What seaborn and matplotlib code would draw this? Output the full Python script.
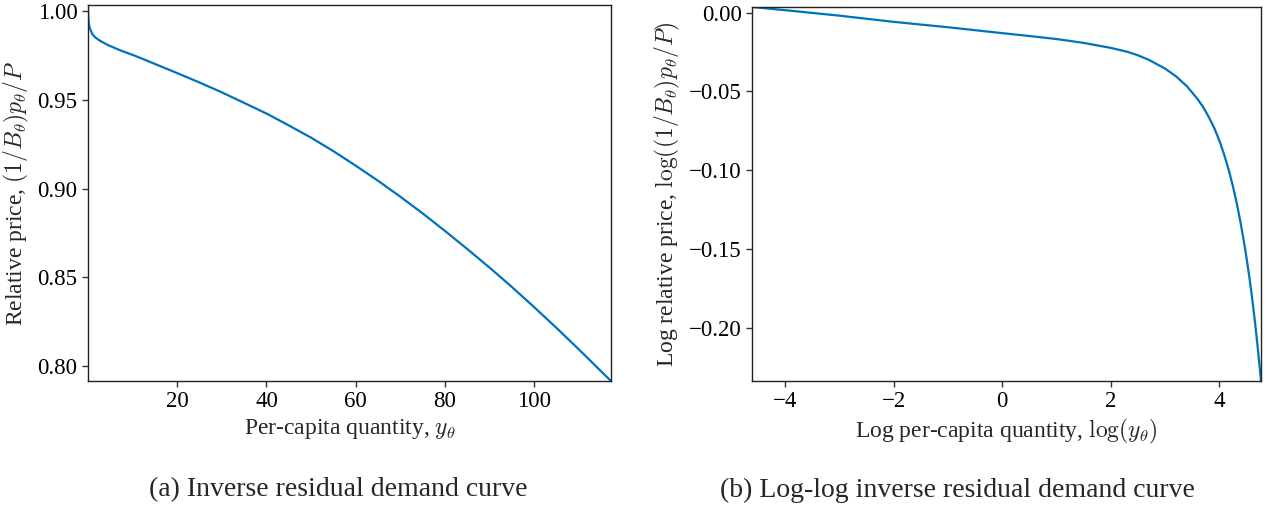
import numpy as np
import pandas as pd
import matplotlib
matplotlib.use("Agg")
import matplotlib.pyplot as plt
import seaborn as sns

# Per-capita quantity y_theta and relative price (1/B)p/P
quantity = [0.01, 0.0183, 0.05, 0.135, 0.368, 1.0, 1.65, 2.72, 4.48, 7.39,
            9.97, 12.18, 14.88, 20.09, 24.53, 29.96, 36.6, 40.4, 45.0, 50.0,
            55.0, 60.0, 65.0, 70.0, 75.0, 80.0, 85.0, 90.0, 95.0, 100.0,
            105.0, 110.0, 114.0, 117.2]
rel_price = [1.0036, 1.0016, 0.9981, 0.9942, 0.9908, 0.9871, 0.9853, 0.9834,
             0.9810, 0.9779, 0.9755, 0.9733, 0.9705, 0.9651, 0.9604, 0.9544,
             0.9465, 0.9419, 0.9357, 0.9288, 0.9212, 0.9130, 0.9045, 0.8955,
             0.8861, 0.8762, 0.8660, 0.8555, 0.8446, 0.8332, 0.8215, 0.8094,
             0.7995, 0.7916]

left_xticks = [20, 40, 60, 80, 100]
left_yticks = [0.80, 0.85, 0.90, 0.95, 1.00]
right_xticks = [-4, -2, 0, 2, 4]
right_yticks = [-0.20, -0.15, -0.10, -0.05, 0.00]

captions = ["(a) Inverse residual demand curve",
            "(b) Log-log inverse residual demand curve"]

sns.set_style("ticks")
plt.rcParams["font.family"] = ["Liberation Serif", "DejaVu Serif"]
plt.rcParams["mathtext.fontset"] = "cm"
plt.rcParams["axes.unicode_minus"] = True

line_color = "#0072BD"
TICK_FS = 16.5
LABEL_FS = 17
CAP_FS = 20

df = pd.DataFrame({"q": quantity, "p": rel_price})
df["logq"] = np.log(df["q"])
df["logp"] = np.log(df["p"])

fig = plt.figure(figsize=(12.67, 5.08), dpi=100)
ax1 = fig.add_axes([88 / 1267, 1 - 381 / 508, (611 - 88) / 1267, (381 - 5) / 508])
ax2 = fig.add_axes([752 / 1267, 1 - 381 / 508, (1261 - 752) / 1267, (381 - 7) / 508])

sns.lineplot(data=df, x="q", y="p", ax=ax1, color=line_color, linewidth=1.6, sort=False)
sns.lineplot(data=df, x="logq", y="logp", ax=ax2, color=line_color, linewidth=1.6, sort=False)

ax1.set_xlim(df["q"].min(), df["q"].max())
ax1.set_ylim(df["p"].min(), df["p"].max())
ax2.set_xlim(df["logq"].min(), df["logq"].max())
ax2.set_ylim(df["logp"].min(), df["logp"].max())

ax1.set_xticks(left_xticks)
ax1.set_yticks(left_yticks)
ax1.set_yticklabels([f"{v:.2f}" for v in left_yticks])
ax2.set_xticks(right_xticks)
ax2.set_xticklabels([f"{v:d}".replace("-", "\u2212") for v in right_xticks])
ax2.set_yticks(right_yticks)
ax2.set_yticklabels([f"{v:.2f}".replace("-", "\u2212") for v in right_yticks])

ax1.set_xlabel(r"Per-capita quantity, $y_\theta$", fontsize=LABEL_FS, labelpad=3)
ax1.set_ylabel(r"Relative price, $(1/B_\theta)p_\theta/P$", fontsize=LABEL_FS, labelpad=5)
ax2.set_xlabel(r"Log per-capita quantity, $\log(y_\theta)$", fontsize=LABEL_FS, labelpad=3)
ax2.set_ylabel(r"Log relative price, $\log((1/B_\theta)p_\theta/P)$", fontsize=LABEL_FS, labelpad=5)

for ax in (ax1, ax2):
    ax.tick_params(axis="both", labelsize=TICK_FS, direction="out", length=4,
                   width=1, colors="#333333", labelcolor="black")
    for s in ax.spines.values():
        s.set_visible(True)
        s.set_linewidth(1.0)
        s.set_color("#222222")

fig.text(338 / 1267, 1 - 490 / 508, captions[0], ha="center", va="center", fontsize=CAP_FS)
fig.text(957 / 1267, 1 - 490 / 508, captions[1], ha="center", va="center", fontsize=CAP_FS)

fig.savefig("out.png", dpi=100)
